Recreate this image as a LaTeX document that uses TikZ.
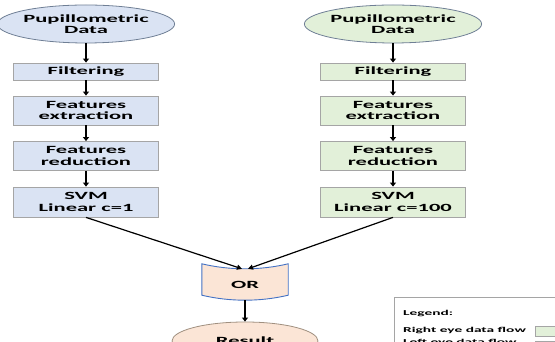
\documentclass[tikz,border=0pt]{standalone}
\usepackage{fontspec}
\setmainfont{Carlito}[FakeStretch=2.05]
\usetikzlibrary{arrows.meta,calc,shapes.geometric}
\definecolor{leftblue}{HTML}{DAE3F3}
\definecolor{rightgreen}{HTML}{E2F0D9}
\definecolor{orfill}{HTML}{FBE5D6}
\definecolor{boxgray}{HTML}{A5A5A5}
\definecolor{ellgray}{HTML}{6F7F95}
\definecolor{orblue}{HTML}{4472C4}
\definecolor{resgray}{HTML}{A09080}
\tikzset{
    databox/.style={draw=boxgray,line width=0.8pt,minimum width=145pt,inner sep=0pt,align=center},
    leftflow/.style={databox,fill=leftblue},
    rightflow/.style={databox,fill=rightgreen},
    datasrc/.style={ellipse,draw=ellgray,line width=0.8pt,minimum width=145pt,minimum height=38pt,inner sep=0pt,align=center},
    flow/.style={-{Triangle[length=4pt,width=6pt]},line width=2pt},
    merge/.style={-{Triangle[length=5pt,width=5pt]},line width=1.2pt},
    legendtext/.style={anchor=west,inner sep=0pt,font=\fontsize{7.5}{9}\selectfont\bfseries}
}
\begin{document}
\begin{tikzpicture}[x=1pt,y=1pt,font=\fontsize{11}{11.5}\selectfont\bfseries]
\useasboundingbox (0,0) rectangle (555,342);
\clip (0,0) rectangle (555,342);
% left eye
\node[datasrc,fill=leftblue] (ldata) at (86,318) {Pupillometric\\Data};
\node[leftflow,minimum height=17pt] (lfilt) at (86,270.5) {Filtering};
\node[leftflow,minimum height=29pt] (lext) at (86,231.5) {Features\\extraction};
\node[leftflow,minimum height=29pt] (lred) at (86,186) {Features\\reduction};
\node[leftflow,minimum height=30pt] (lsvm) at (86,140) {SVM\\Linear c=1};
% right eye
\node[datasrc,fill=rightgreen] (rdata) at (393,318) {Pupillometric\\Data};
\node[rightflow,minimum height=17pt] (rfilt) at (393,270.5) {Filtering};
\node[rightflow,minimum height=29pt] (rext) at (393,231.5) {Features\\extraction};
\node[rightflow,minimum height=29pt] (rred) at (393,186) {Features\\reduction};
\node[rightflow,minimum height=30pt] (rsvm) at (393,140) {SVM\\Linear c=100};
% decision
\node[minimum width=86pt,minimum height=31pt,inner sep=0pt] (or) at (245,57.5) {};
\draw[orblue,fill=orfill,line width=0.9pt]
    ($(or.north west)+(0,5)$) .. controls ($(or.north west)+(28,-1.67)$) and ($(or.north east)+(-28,-1.67)$) .. ($(or.north east)+(0,5)$)
    -- ($(or.south east)+(0,5)$) .. controls ($(or.south east)+(-28,-1.67)$) and ($(or.south west)+(28,-1.67)$) .. ($(or.south west)+(0,5)$)
    -- cycle;
\node at (or) {OR};
\node[ellipse,draw=resgray,fill=orfill,line width=0.8pt,minimum width=146pt,minimum height=38pt,inner sep=0pt] (res) at (245,1) {Result};
\coordinate (orinl) at ($(or.north)+(-3,0)$);
\coordinate (orinr) at ($(or.north)+(3,0)$);
% arrows
\foreach \a/\b in {ldata/lfilt,lfilt/lext,lext/lred,lred/lsvm,rdata/rfilt,rfilt/rext,rext/rred,rred/rsvm,or/res}
    \draw[flow] (\a.south) -- (\b.north);
\draw[merge] (lsvm.south) -- (orinl);
\draw[merge] (rsvm.south) -- (orinr);
% legend
\draw[boxgray,line width=0.8pt,fill=white] (394,45) rectangle (570,-10);
\node[legendtext] (leg) at (403,28) {Legend:};
\node[legendtext] (legr) at (403,11) {Right eye data flow};
\node[legendtext] (legl) at (403,0) {Left eye data flow};
\draw[boxgray,fill=rightgreen] (535,16) rectangle (570,6);
\draw[boxgray,fill=leftblue] (535,1) rectangle (570,-9);
\end{tikzpicture}
\end{document}
